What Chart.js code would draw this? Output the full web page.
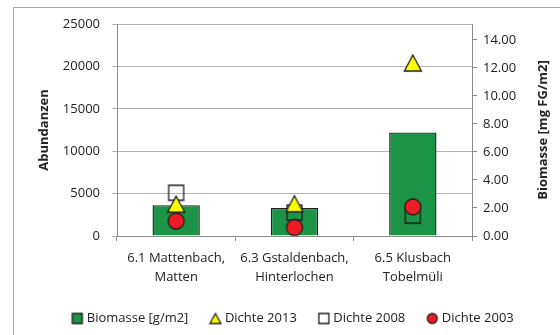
<!DOCTYPE html>
<html>
<head>
<meta charset="utf-8">
<script src="https://cdn.jsdelivr.net/npm/chart.js@4/dist/chart.umd.min.js"></script>
<style>
  html, body { margin:0; padding:0; background:#fff; }
  #wrap { position:relative; width:560px; height:335px; overflow:hidden; }
  #frame { position:absolute; left:13px; top:7px; width:620px; height:400px; border:1px solid #a8a8a8; }
  #chart { position:absolute; left:0; top:0; }
</style>
</head>
<body>
<div id="wrap">
  <div id="frame"></div>
  <canvas id="chart" width="560" height="335"></canvas>
</div>
<script>
/* ── Biomasse & Dichte je Standort ─────────────────────────── */
const SITES = [
  ["6.1 Mattenbach,", "Matten"],
  ["6.3 Gstaldenbach,", "Hinterlochen"],
  ["6.5 Klusbach", "Tobelmüli"],
];
const BIOMASSE    = [2.2, 2.0, 7.4];          // rechte Achse
const DICHTE_2013 = [3750, 3800, 20400];      // linke Achse
const DICHTE_2008 = [5100, 2750, 2400];
const DICHTE_2003 = [1750, 1000, 3440];

const LEFT_TICKS  = { min:0, max:25000, step:5000 };
const RIGHT_TICKS = { min:0, max:15.14, step:2 };

const TITLE_LEFT  = "Abundanzen";
const TITLE_RIGHT = "Biomasse [mg FG/m2]";

const GREEN = "#1b9445", YELLOW = "#ffff00", RED = "#ee1c24", EDGE = "#1e1e1e";
const GRID  = "#b4b4b4", AXIS = "#8c8c8c", TEXT = "#222";
const FONT  = '"Open Sans", sans-serif';

// marker images (Excel-style: shape centred in its own box)
function marker(kind, size, fill) {
  const pad = 2, c = document.createElement("canvas");
  c.width = c.height = size + pad * 2;
  const g = c.getContext("2d");
  const a = pad, b = pad + size, m = c.width / 2;
  g.lineWidth = 1.3; g.strokeStyle = EDGE; g.fillStyle = fill;
  g.beginPath();
  if (kind === "triangle") { g.moveTo(m, a); g.lineTo(b + 0.5, b); g.lineTo(a - 0.5, b); g.closePath(); }
  else if (kind === "circle") g.arc(m, m, size / 2, 0, Math.PI * 2);
  else g.rect(a, a, size, size);
  if (fill) g.fill();
  g.stroke();
  return c;
}

const LEGEND_ICONS = [
  marker("rect", 10, GREEN),
  marker("triangle", 10, YELLOW),
  marker("rect", 10, "#fff"),
  marker("circle", 10, RED),
];

const axisTitles = {
  id: "axisTitles",
  afterDraw(chart) {
    const { ctx, chartArea } = chart;
    const midY = (chartArea.top + chartArea.bottom) / 2;
    ctx.save();
    ctx.font = "bold 13px " + FONT;
    ctx.fillStyle = TEXT;
    ctx.textAlign = "center";
    ctx.textBaseline = "middle";
    [[44, TITLE_LEFT], [543, TITLE_RIGHT]].forEach(([x, t]) => {
      ctx.save(); ctx.translate(x, midY); ctx.rotate(-Math.PI / 2);
      ctx.fillText(t, 0, 0);
      ctx.restore();
    });
    ctx.restore();
  },
};

Chart.defaults.font.family = FONT;
Chart.defaults.font.size = 13;
Chart.defaults.color = TEXT;

const pointSet = (label, data, img, order) => ({
  type: "line", label, data, yAxisID: "yL", order,
  showLine: false, pointStyle: img, pointRadius: 8, pointHoverRadius: 8,
});

new Chart(document.getElementById("chart"), {
  type: "bar",
  data: {
    labels: SITES,
    datasets: [
      { label:"Biomasse [g/m2]", data:BIOMASSE, yAxisID:"yR", order:4,
        backgroundColor:GREEN, borderColor:EDGE, borderWidth:1.4,
        barPercentage:0.4, categoryPercentage:1 },
      pointSet("Dichte 2013", DICHTE_2013, marker("triangle", 16, YELLOW), 2),
      pointSet("Dichte 2008", DICHTE_2008, marker("rect", 15, null), 3),
      pointSet("Dichte 2003", DICHTE_2003, marker("circle", 16, RED), 1),
    ],
  },
  options: {
    responsive: false,
    animation: false,
    layout: { padding: { top:24, left:28, right:0, bottom:0 } },
    plugins: {
      tooltip: { enabled:false },
      legend: {
        position: "bottom",
        labels: {
          usePointStyle: true, boxWidth: 6, boxHeight: 10, padding: 24,
          generateLabels: chart => chart.data.datasets.map((ds, i) => ({
            text: ds.label, pointStyle: LEGEND_ICONS[i], datasetIndex: i,
            hidden: false, lineWidth: 0, fontColor: TEXT,
            fillStyle: "transparent", strokeStyle: "transparent",
          })),
        },
      },
    },
    scales: {
      x: {
        offset: true,
        grid: { offset:true, drawOnChartArea:false, tickLength:5, color:AXIS },
        border: { color:AXIS },
        ticks: { padding:8, maxRotation:0, autoSkip:false, font:{ lineHeight:1.45 } },
        afterFit(s) { s.height = 52; },
      },
      yL: {
        position: "left",
        min: LEFT_TICKS.min, max: LEFT_TICKS.max,
        ticks: { stepSize: LEFT_TICKS.step, padding:12, callback: v => String(v) },
        grid: { color:GRID, tickLength:5 },
        border: { color:AXIS },
        afterFit(s) { s.width = 89; },
      },
      yR: {
        position: "right",
        min: RIGHT_TICKS.min, max: RIGHT_TICKS.max,
        ticks: { stepSize: RIGHT_TICKS.step, includeBounds:false, padding:6,
                 callback: v => v.toFixed(2) },
        grid: { drawOnChartArea:false, tickLength:5, color:AXIS },
        border: { color:AXIS },
        afterFit(s) { s.width = 88; },
      },
    },
  },
  plugins: [axisTitles],
});
</script>
</body>
</html>
